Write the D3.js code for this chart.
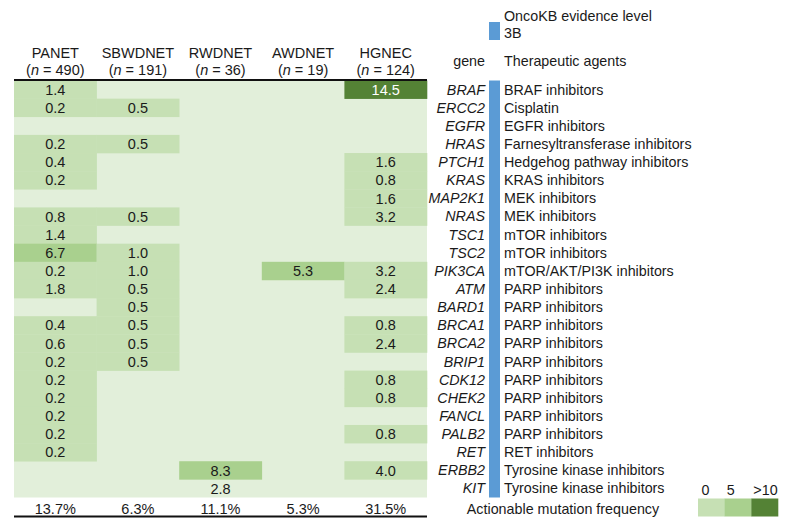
<!DOCTYPE html>
<html><head><meta charset="utf-8">
<script src="https://cdn.jsdelivr.net/npm/d3@7"></script>
<style>
body{margin:0;background:#fff;}
svg text{font-family:"Liberation Sans",Arial,Helvetica,sans-serif;fill:#1a1a1a;}
</style></head>
<body><svg id="c" width="789" height="528"></svg>
<script>
const groups = ["PANET","SBWDNET","RWDNET","AWDNET","HGNEC"];
const groupN = [490,191,36,19,124];
const genes = ["BRAF","ERCC2","EGFR","HRAS","PTCH1","KRAS","MAP2K1","NRAS","TSC1","TSC2","PIK3CA","ATM","BARD1","BRCA1","BRCA2","BRIP1","CDK12","CHEK2","FANCL","PALB2","RET","ERBB2","KIT"];
const agents = ["BRAF inhibitors","Cisplatin","EGFR inhibitors","Farnesyltransferase inhibitors","Hedgehog pathway inhibitors","KRAS inhibitors","MEK inhibitors","MEK inhibitors","mTOR inhibitors","mTOR inhibitors","mTOR/AKT/PI3K inhibitors","PARP inhibitors","PARP inhibitors","PARP inhibitors","PARP inhibitors","PARP inhibitors","PARP inhibitors","PARP inhibitors","PARP inhibitors","PARP inhibitors","RET inhibitors","Tyrosine kinase inhibitors","Tyrosine kinase inhibitors"];
const PANET   = [1.4,0.2,null,0.2,0.4,0.2,null,0.8,1.4,6.7,0.2,1.8,null,0.4,0.6,0.2,0.2,0.2,0.2,0.2,0.2,null,null];
const SBWDNET = [null,0.5,null,0.5,null,null,null,0.5,null,1.0,1.0,0.5,0.5,0.5,0.5,0.5,null,null,null,null,null,null,null];
const RWDNET  = [null,null,null,null,null,null,null,null,null,null,null,null,null,null,null,null,null,null,null,null,null,8.3,2.8];
const AWDNET  = [null,null,null,null,null,null,null,null,null,null,5.3,null,null,null,null,null,null,null,null,null,null,null,null];
const HGNEC   = [14.5,null,null,null,1.6,0.8,1.6,3.2,null,null,3.2,2.4,null,0.8,2.4,null,0.8,0.8,null,0.8,null,4.0,null];
const totals = ["13.7%","6.3%","11.1%","5.3%","31.5%"];
const unshaded = [["RWDNET","KIT"]];
const legendLabels = ["0","5",">10"];
const thresholds = [5,10];

const series = [PANET,SBWDNET,RWDNET,AWDNET,HGNEC];
const colBg = "#e2efda";
const colors = ["#c6e0b4","#a9d08e","#548235"];
const blue = "#5b9bd5";
const FV = 14.5, FL = 14.3, FH = 14.5;

const svg = d3.select("#c");
const x = d3.scaleBand().domain(groups).range([14,427]);
const y = d3.scaleBand().domain(genes).range([80.5,497.5]);
const color = d3.scaleThreshold().domain(thresholds).range(colors);

svg.append("rect").attr("x",x.range()[0]).attr("y",y.range()[0])
  .attr("width",x.range()[1]-x.range()[0]).attr("height",y.range()[1]-y.range()[0]).attr("fill",colBg);

const cells = [];
groups.forEach((g,i)=>genes.forEach((gn,j)=>{
  const v = series[i][j];
  if(v!==null) cells.push({g,gn,v,shade:!unshaded.some(u=>u[0]===g&&u[1]===gn)});
}));

svg.append("g").selectAll("rect").data(cells.filter(d=>d.shade)).join("rect")
  .attr("x",d=>x(d.g)).attr("y",d=>y(d.gn))
  .attr("width",x.bandwidth()+0.3).attr("height",y.bandwidth()+0.3)
  .attr("fill",d=>color(d.v));

svg.append("g").selectAll("text").data(cells).join("text")
  .attr("x",d=>x(d.g)+x.bandwidth()/2).attr("y",d=>y(d.gn)+y.bandwidth()/2+5.2)
  .attr("text-anchor","middle").attr("font-size",FV)
  .style("fill",d=>d.v>=10?"#ffffff":"#1a1a1a")
  .text(d=>d.v.toFixed(1));

const hdr = svg.append("g");
groups.forEach((g,i)=>{
  const cx = x(g)+x.bandwidth()/2;
  hdr.append("text").attr("x",cx).attr("y",58).attr("text-anchor","middle").attr("font-size",FH).text(g);
  const t = hdr.append("text").attr("x",cx).attr("y",74.5).attr("text-anchor","middle").attr("font-size",FH);
  t.append("tspan").text("(");
  t.append("tspan").attr("font-style","italic").text("n");
  t.append("tspan").text(" = "+groupN[i]+")");
});
svg.append("line").attr("x1",14).attr("x2",427).attr("y1",80).attr("y2",80).attr("stroke","#111").attr("stroke-width",2);

svg.append("g").selectAll("text").data(groups).join("text")
  .attr("x",d=>x(d)+x.bandwidth()/2).attr("y",513.5).attr("text-anchor","middle").attr("font-size",FV)
  .text((d,i)=>totals[i]);
svg.append("line").attr("x1",14).attr("x2",427).attr("y1",516.5).attr("y2",516.5).attr("stroke","#111").attr("stroke-width",2);

svg.append("g").selectAll("text").data(genes).join("text")
  .attr("x",485).attr("y",d=>y(d)+y.bandwidth()/2+5).attr("text-anchor","end")
  .attr("font-size",FL).attr("font-style","italic").text(d=>d);
svg.append("g").selectAll("text").data(genes).join("text")
  .attr("x",504).attr("y",d=>y(d)+y.bandwidth()/2+5)
  .attr("font-size",FL).text((d,i)=>agents[i]);
svg.append("rect").attr("x",489).attr("width",11).attr("y",y.range()[0]).attr("height",y.range()[1]-y.range()[0]).attr("fill",blue);

svg.append("rect").attr("x",489).attr("y",22).attr("width",11).attr("height",18).attr("fill",blue);
svg.append("text").attr("x",504).attr("y",20.5).attr("font-size",FL).text("OncoKB evidence level");
svg.append("text").attr("x",504).attr("y",37.5).attr("font-size",FL).text("3B");
svg.append("text").attr("x",485).attr("y",65.5).attr("text-anchor","end").attr("font-size",FL).text("gene");
svg.append("text").attr("x",504).attr("y",65.5).attr("font-size",FL).text("Therapeutic agents");

svg.append("text").attr("x",563).attr("y",513.5).attr("text-anchor","middle").attr("font-size",FL).text("Actionable mutation frequency");

const lx = d3.scaleBand().domain(legendLabels).range([698,778]);
svg.append("g").selectAll("rect").data(legendLabels).join("rect")
  .attr("x",d=>lx(d)).attr("y",498.5).attr("width",lx.bandwidth()+0.3).attr("height",18)
  .attr("fill",(d,i)=>colors[i]);
svg.append("g").selectAll("text").data(legendLabels).join("text")
  .attr("x",(d,i)=>lx(d)+(i===0?3.5:2)).attr("y",494.5).attr("font-size",FL).text(d=>d);
</script></body></html>
